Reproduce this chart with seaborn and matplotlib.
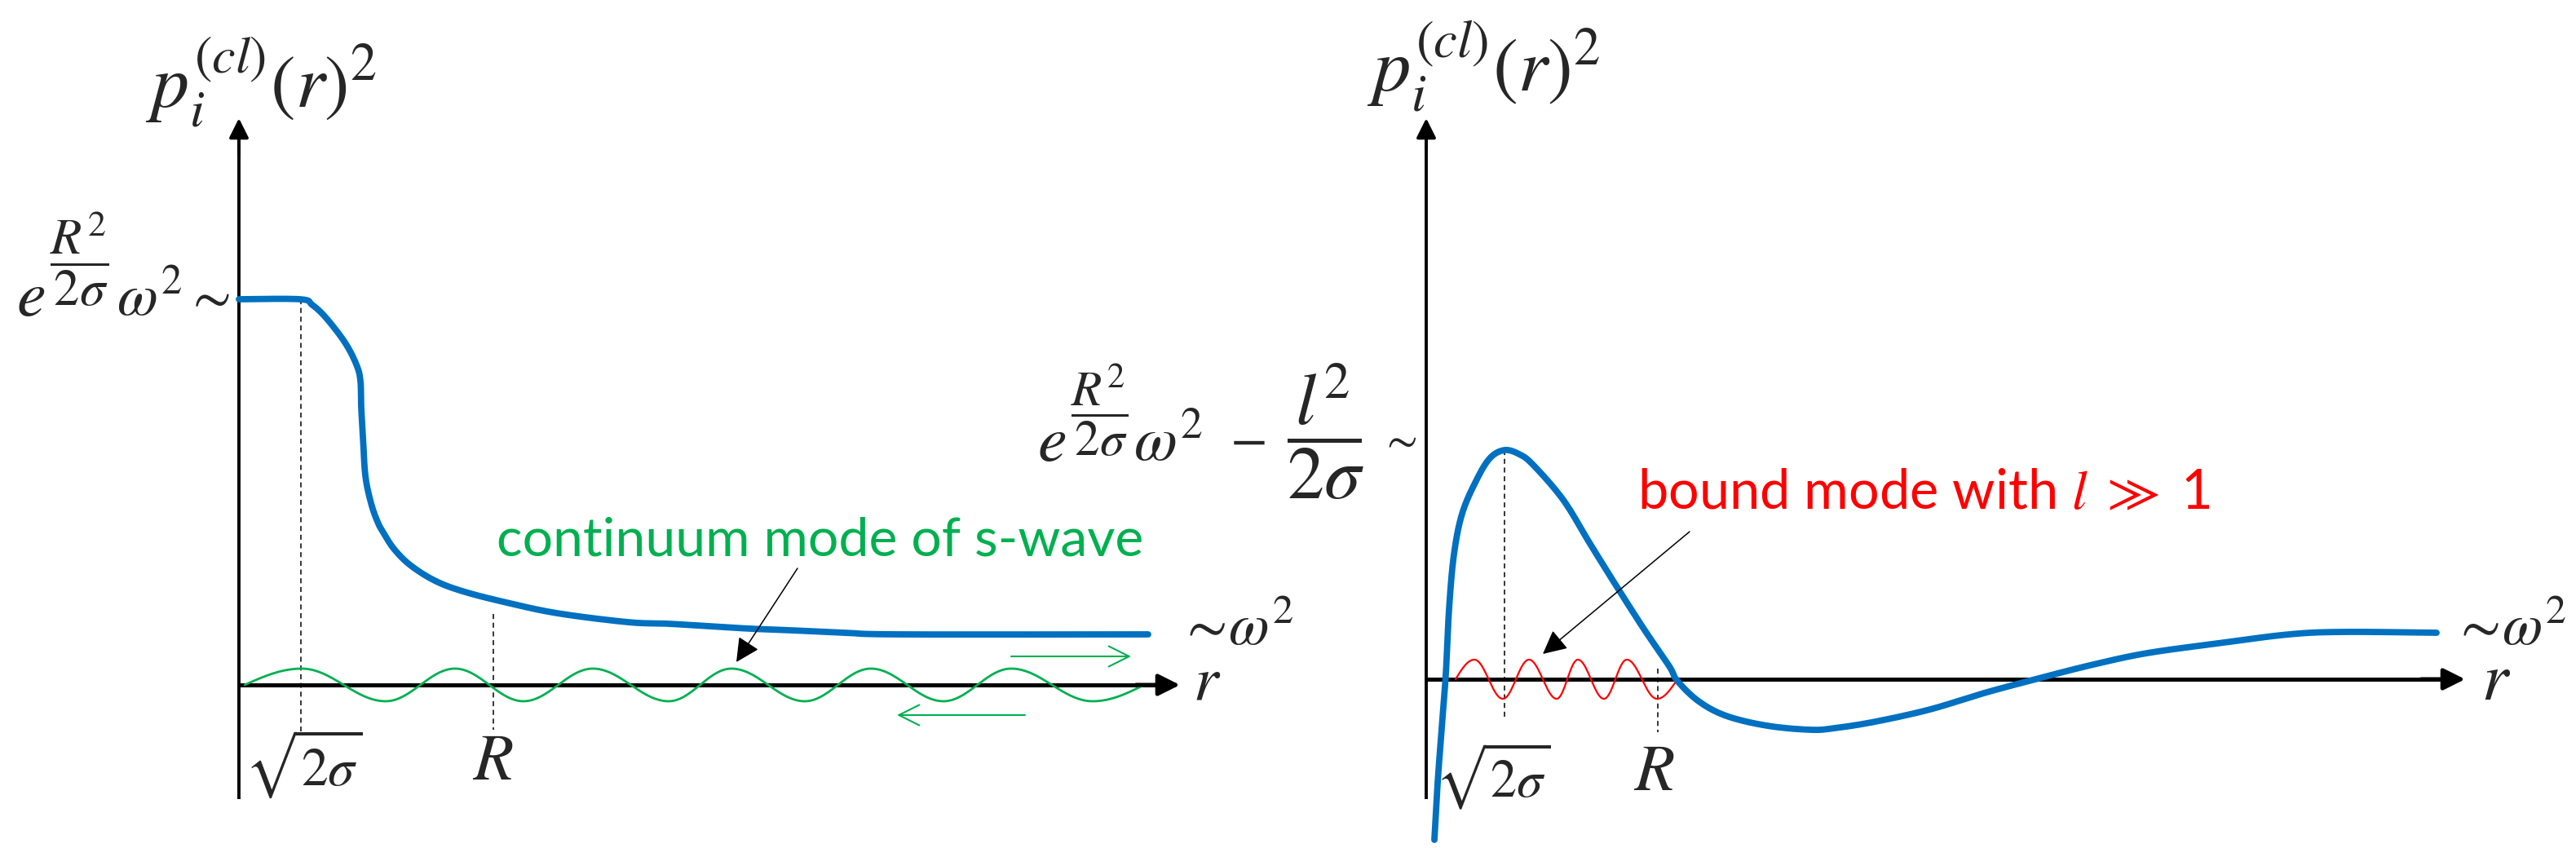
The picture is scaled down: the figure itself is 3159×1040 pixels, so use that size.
import numpy as np
import seaborn as sns
import matplotlib.pyplot as plt

# ---- values (pixel units, r = distance from the p axis, h = height above the r axis)
# left panel: continuum (s-wave) case
left_r = [0, 75, 90, 107, 130, 144, 149, 150, 152, 155, 162, 170, 177, 190, 210, 240, 274, 324,
          390, 477, 527, 577, 627, 677, 744, 810, 1115]
left_h = [473, 473, 466, 450, 420, 393, 373, 340, 307, 257, 223, 200, 187, 167, 147, 128, 115, 102,
          88, 77, 75, 72, 69, 67, 64, 62, 62]
# green wave extrema (zero / peak / trough)
green_r = [7, 77, 180, 265, 349, 434, 527, 604, 694, 775, 864, 947, 1047, 1110]
green_h = [0, 20, -20, 20, -20, 20, -20, 20, -20, 20, -20, 20, -20, 0]

# right panel: bound mode with large l
right_r = [10, 14, 19, 24, 28, 34, 44, 61, 78, 96, 114, 131, 168, 201, 234, 268, 298, 308, 334,
           368, 418, 471, 501, 551, 618, 684, 751, 818, 884, 971, 1058, 1124, 1239]
right_h = [-197, -127, -60, 6, 86, 153, 203, 243, 271, 281, 276, 263, 220, 166, 113, 60, 16, -2, -27,
           -45, -57, -62, -60, -52, -37, -17, 1, 18, 32, 44, 55, 58, 57]
red_r = [36, 59, 94, 126, 160, 186, 218, 246, 283, 308]
red_h = [0, 24, -24, 24, -24, 24, -24, 24, -24, 0]

# guide positions (sqrt(2 sigma), R): r, top, bottom
left_guides = [(76, 473, -57), (312, 87, -55)]
right_guides = [(96, 281, -50), (284, 13, -65)]

BLUE = "#0070C0"
GREEN = "#00B050"
RED = "#FF0000"

W, H = 3159, 1040

sns.set_theme(style="white")
plt.rcParams["font.family"] = ["Lato", "DejaVu Sans"]
plt.rcParams["mathtext.fontset"] = "stix"


def wave(xs, ys, n=40):
    # smooth wave through the read extrema
    wx, wy = [], []
    for x0, y0, x1, y1 in zip(xs[:-1], ys[:-1], xs[1:], ys[1:]):
        t = np.linspace(0, 1, n)
        if y0 == 0:
            y = y1 * np.sin(np.pi * t / 2)
        elif y1 == 0:
            y = y0 * np.cos(np.pi * t / 2)
        else:
            y = y0 + (y1 - y0) * (1 - np.cos(np.pi * t)) / 2
        wx.extend(x0 + (x1 - x0) * t)
        wy.extend(y)
    return np.array(wx), np.array(wy)


def smooth(xs, ys, n=12):
    # catmull-rom path through the read points, for drawing only
    P = np.column_stack([xs, ys]).astype(float)
    P = np.vstack([P[0], P, P[-1]])
    out = []
    t = np.linspace(0, 1, n, endpoint=False)[:, None]
    for i in range(1, len(P) - 2):
        p0, p1, p2, p3 = P[i - 1], P[i], P[i + 1], P[i + 2]
        out.append(0.5 * (2 * p1 + (-p0 + p2) * t + (2 * p0 - 5 * p1 + 4 * p2 - p3) * t ** 2
                          + (-p0 + 3 * p1 - 3 * p2 + p3) * t ** 3))
    out.append(P[-2][None])
    out = np.vstack(out)
    return out[:, 0], out[:, 1]


def arrow(ax, start, end, lw, ms, style="-|>", color="black"):
    ax.annotate("", xy=end, xytext=start,
                arrowprops=dict(arrowstyle=style, lw=lw, color=color, mutation_scale=ms,
                                shrinkA=0, shrinkB=0), annotation_clip=False)


fig = plt.figure(figsize=(W / 100, H / 100), dpi=100)
fig.patch.set_facecolor("white")

axL = fig.add_axes([0, 0, 1600 / W, 1])
axL.set_xlim(-293, 1307)
axL.set_ylim(-200, 840)
axR = fig.add_axes([1600 / W, 0, 1559 / W, 1])
axR.set_xlim(-149, 1410)
axR.set_ylim(-207, 833)
for ax in (axL, axR):
    ax.set_axis_off()

# axes arrows
axL.plot([0, 0], [-140, 680], color="black", lw=2.8, solid_capstyle="butt")
arrow(axL, (0, 650), (0, 695), 2.8, 36)
axL.plot([0, 1130], [0, 0], color="black", lw=3.6, solid_capstyle="butt")
arrow(axL, (1100, 0), (1154, 0), 3.6, 40)

axR.plot([0, 0], [-147, 672], color="black", lw=2.8, solid_capstyle="butt")
arrow(axR, (0, 650), (0, 688), 2.8, 36)
axR.plot([0, 1250], [0, 0], color="black", lw=3.6, solid_capstyle="butt")
arrow(axR, (1220, 0), (1274, 0), 3.6, 40)

# dashed guides
for ax, guides in ((axL, left_guides), (axR, right_guides)):
    for r, top, bottom in guides:
        ax.plot([r, r], [top, bottom], color="black", lw=1.1, ls=(0, (4, 3)))

# waves
gx, gy = wave(green_r, green_h)
sns.lineplot(x=gx, y=gy, ax=axL, color=GREEN, lw=2.0, sort=False, estimator=None)
rx, ry = wave(red_r, red_h)
sns.lineplot(x=rx, y=ry, ax=axR, color=RED, lw=1.6, sort=False, estimator=None)

# blue curves
bx, by = smooth(left_r, left_h)
sns.lineplot(x=bx, y=by, ax=axL, color=BLUE, lw=5.6, sort=False, estimator=None)
bx, by = smooth(right_r, right_h)
sns.lineplot(x=bx, y=by, ax=axR, color=BLUE, lw=5.6, sort=False, estimator=None)

# green travelling-wave arrows
arrow(axL, (947, 35), (1094, 35), 1.5, 45, style="->", color=GREEN)
arrow(axL, (964, -37), (807, -37), 1.5, 45, style="->", color=GREEN)

# annotation arrows
arrow(axL, (685, 143), (610, 28), 1.1, 45)
arrow(axR, (323, 181), (143, 31), 1.1, 45)

renderer = fig.canvas.get_renderer()


def place(s, x0, x1, y, va="baseline", fs=None, **kw):
    # put text s so that its ink spans x0..x1 (reference pixels), anchored vertically at y;
    # with fs given, keep that size and centre it on x0..x1 instead
    t = fig.text(0, 1 - y / H, s, ha="left", va=va, fontsize=fs or 40, **kw)
    bb = t.get_window_extent(renderer)
    if fs is None:
        t.set_fontsize(40 * (x1 - x0) / bb.width)
        bb = t.get_window_extent(renderer)
        t.set_x((x0 - bb.x0) / W)
    else:
        t.set_x(((x0 + x1) / 2 - bb.width / 2 - bb.x0) / W)
    return t


# left panel text
place(r"$p_i^{(cl)}(r)^2$", 179, 464, 132)
place(r"$e$", 20, 56, 387)
place(r"$\dfrac{R^2}{2\sigma}$", 61, 134, 318, va="center")
place(r"$\omega^2$", 143, 224, 387)
place(r"$\sim$", 227, 283, 365, va="center")
place(r"$\sqrt{2\sigma}$", 300, 445, 937, va="center")
place(r"$R$", 582, 626, 933, va="center", fs=58)
place(r"$\sim\!\omega^2$", 1445, 1587, 791)
place(r"$r$", 1463, 1498, 858)
place("continuum mode of s-wave", 609, 1402, 682, color=GREEN)

# right panel text
place(r"$p_i^{(cl)}(r)^2$", 1677, 1964, 112)
place(r"$e$", 1272, 1308, 565)
place(r"$\dfrac{R^2}{2\sigma}$", 1313, 1384, 503, va="center")
place(r"$\omega^2$", 1390, 1476, 565)
place(r"$-$", 1508, 1552, 540, va="center")
place(r"$\dfrac{l^2}{2\sigma}$", 1578, 1674, 529, va="center")
place(r"$\sim$", 1693, 1738, 540, va="center")
place(r"$\sqrt{2\sigma}$", 1760, 1902, 952, va="center")
place(r"$R$", 2006, 2050, 946, va="center", fs=58)
place(r"$\sim\!\omega^2$", 3007, 3148, 791)
place(r"$r$", 3043, 3080, 858)
place(r"bound mode with $l$ $\gg$ 1", 2008, 2710, 624, color=RED)

fig.savefig("out.png", dpi=100, facecolor="white")
